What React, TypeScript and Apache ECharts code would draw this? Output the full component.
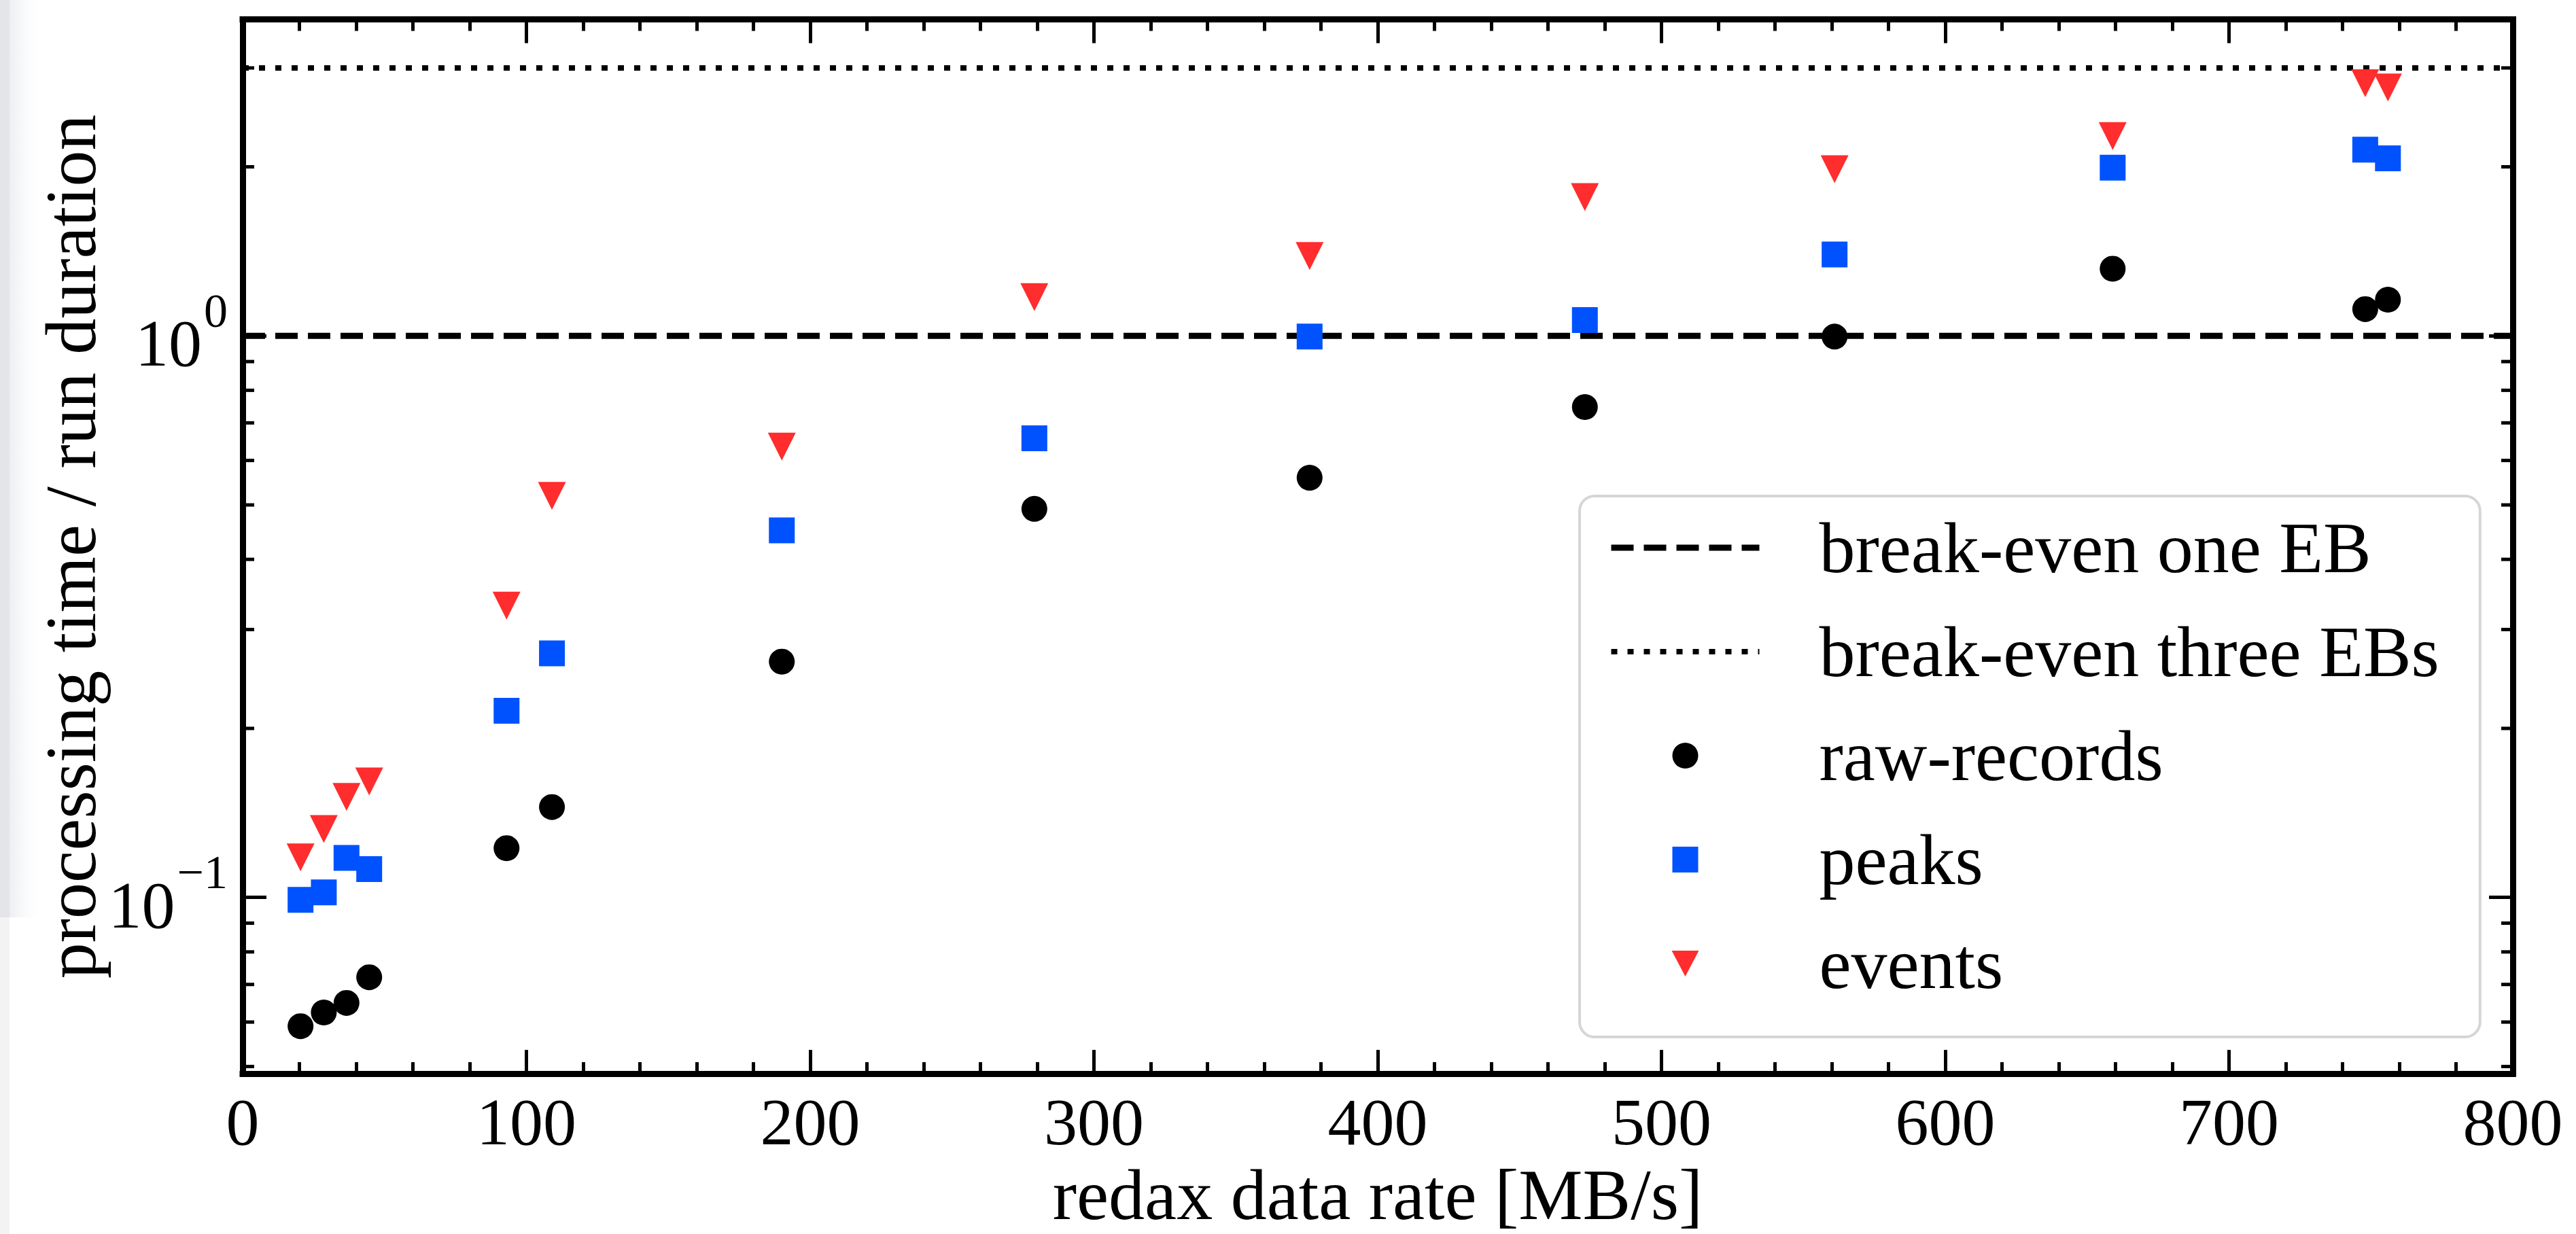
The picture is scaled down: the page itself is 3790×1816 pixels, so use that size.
import React, { useEffect, useRef } from "react";
import * as echarts from "echarts";

// ---- data ----
const rate = [20.4, 28.6, 36.6, 44.6, 93, 109, 190, 279, 376, 473, 561, 659, 748, 756];
const rawRecords = [0.059, 0.0624, 0.0649, 0.0721, 0.1224, 0.1449, 0.263, 0.492, 0.559, 0.747, 0.997, 1.317, 1.116, 1.16];
const peaks = [0.099, 0.1021, 0.1176, 0.1123, 0.215, 0.272, 0.4505, 0.657, 0.997, 1.067, 1.396, 1.993, 2.146, 2.071];
const events = [0.1179, 0.1324, 0.151, 0.1609, 0.331, 0.519, 0.635, 1.172, 1.387, 1.767, 1.981, 2.269, 2.818, 2.769];
const breakEvenOne = 1;
const breakEvenThree = 3;
const seriesNames = ["break-even one EB", "break-even three EBs", "raw-records", "peaks", "events"];
const xRange = [0, 800];
const yRange = [0.04855, 3.661];
const yMajorTicks = [0.1, 1];
const yMinorTicks = [0.05, 0.06, 0.07, 0.08, 0.09, 0.2, 0.3, 0.4, 0.5, 0.6, 0.7, 0.8, 0.9, 2, 3];

const FONT = "'Liberation Serif', 'DejaVu Serif', serif";
const SUP_SIZE = 70;
const BASE_SIZE = 98;

const supText = (v: number) => {
  const e = Math.round(Math.log10(v));
  return e < 0 ? "\u2212" + -e : String(e);
};
const supWidth = (s: string) => s.split("").reduce((a, c) => a + (c === "\u2212" ? 0.564 : 0.5), 0) * SUP_SIZE;

export default function App() {
  const ref = useRef<HTMLDivElement>(null);
  useEffect(() => {
    if (!ref.current) return;
    const chart = echarts.init(ref.current, null, { renderer: "svg" });
    const axisLine = { show: true, onZero: false, lineStyle: { color: "#000", width: 9, cap: "square" } };
    const majorTick = { show: true, inside: true, length: 35, lineStyle: { color: "#000", width: 5 } };
    const minorTick = { show: true, splitNumber: 5, length: 17, lineStyle: { color: "#000", width: 5 } };
    const option: any = {
      animation: false,
      backgroundColor: "#fff",
      grid: { left: 357, right: 93, top: 28.5, bottom: 235, containLabel: false },
      graphic: [
        { type: "rect", left: 0, top: 0, shape: { x: 0, y: 0, width: 14, height: 1350 }, style: { fill: "#e3e5e9" }, z: -10 },
        { type: "rect", left: 0, top: 1350, shape: { x: 0, y: 0, width: 14, height: 466 }, style: { fill: "#f3f3f3" }, z: -10 },
        {
          type: "rect", left: 14, top: 0, shape: { x: 0, y: 0, width: 50, height: 1350 },
          style: { fill: new echarts.graphic.LinearGradient(0, 0, 1, 0, [{ offset: 0, color: "#eceef1" }, { offset: 1, color: "rgba(255,255,255,0)" }]) },
          z: -10,
        },
      ],
      legend: {
        orient: "vertical",
        left: 2324,
        top: 730,
        symbolRotate: 0,
        data: [
          { name: seriesNames[0], itemStyle: { opacity: 0 }, lineStyle: { color: "#000", width: 9, type: [33, 15] } },
          { name: seriesNames[1], itemStyle: { opacity: 0 }, lineStyle: { color: "#000", width: 8, type: [9, 15] } },
          { name: seriesNames[2], icon: "circle" },
          { name: seriesNames[3], icon: "path://M0,0h0.01v0.01h-0.01z M218,37.99h0.01v0.01h-0.01z M90,0h38v38h-38z" },
          { name: seriesNames[4], icon: "path://M0,0h0.01v0.01h-0.01z M218,37.99h0.01v0.01h-0.01z M88.5,0h41l-20.5,39z" },
        ],
        itemWidth: 218,
        itemHeight: 38,
        itemGap: 47,
        padding: [23, 60, 55, 42],
        borderColor: "#d6d6d6",
        borderWidth: 4,
        borderRadius: 22,
        backgroundColor: "#fff",
        textStyle: { fontFamily: FONT, fontSize: 106, color: "#000", lineHeight: 106, padding: [0, 0, 0, 83] },
      },
      xAxis: [
        {
          type: "value", position: "bottom", min: xRange[0], max: xRange[1], interval: 100,
          axisLine, axisTick: majorTick, minorTick,
          splitLine: { show: false }, minorSplitLine: { show: false },
          axisLabel: { fontFamily: FONT, fontSize: BASE_SIZE, color: "#000", margin: 22 },
          name: "redax data rate [MB/s]", nameLocation: "middle", nameGap: 110,
          nameTextStyle: { fontFamily: FONT, fontSize: 106, color: "#000" },
        },
        {
          type: "value", position: "top", min: xRange[0], max: xRange[1], interval: 100,
          axisLine, axisTick: majorTick, minorTick,
          splitLine: { show: false }, minorSplitLine: { show: false },
          axisLabel: { show: false },
        },
      ],
      yAxis: [
        {
          type: "log", logBase: 10, position: "left", min: yRange[0], max: yRange[1],
          axisLine, axisTick: majorTick, minorTick: { show: false },
          splitLine: { show: false },
          axisLabel: { show: false },
          name: "processing time / run duration", nameLocation: "middle", nameGap: 200,
          nameTextStyle: { fontFamily: FONT, fontSize: 106, color: "#000" },
        },
        {
          type: "log", logBase: 10, position: "right", min: yRange[0], max: yRange[1],
          axisLine, axisTick: majorTick, minorTick: { show: false },
          splitLine: { show: false }, axisLabel: { show: false },
        },
      ],
      series: [
        {
          name: seriesNames[0], type: "line", symbol: "none", silent: true,
          data: [[xRange[0], breakEvenOne], [xRange[1], breakEvenOne]],
          lineStyle: { color: "#000", width: 9, type: [33, 15] }, itemStyle: { color: "#000" }, z: 2,
        },
        {
          name: seriesNames[1], type: "line", symbol: "none", silent: true,
          data: [[xRange[0], breakEvenThree], [xRange[1], breakEvenThree]],
          lineStyle: { color: "#000", width: 8, type: [9, 15] }, itemStyle: { color: "#000" }, z: 2,
        },
        {
          name: seriesNames[2], type: "scatter", symbol: "circle", symbolSize: 38,
          data: rate.map((x, i) => [x, rawRecords[i]]), itemStyle: { color: "#000", opacity: 1 }, z: 3,
        },
        {
          name: seriesNames[3], type: "scatter", symbol: "rect", symbolSize: 38,
          data: rate.map((x, i) => [x, peaks[i]]), itemStyle: { color: "#0052ff", opacity: 1 }, z: 4,
        },
        {
          name: seriesNames[4], type: "scatter", symbol: "triangle", symbolRotate: 180, symbolSize: 41,
          data: rate.map((x, i) => [x, events[i]]), itemStyle: { color: "#ff2d2d", opacity: 1 }, z: 5,
        },
        {
          // minor ticks of the log axis (left and right spines)
          type: "custom", silent: true, clip: false, z: 6,
          data: yMinorTicks.map((v) => [xRange[0], v]),
          renderItem: (params: any, api: any) => {
            const v = api.value(1);
            const l = api.coord([xRange[0], v]);
            const r = api.coord([xRange[1], v]);
            const st = { stroke: "#000", lineWidth: 5 };
            return {
              type: "group",
              children: [
                { type: "line", shape: { x1: l[0], y1: l[1], x2: l[0] + 17, y2: l[1] }, style: st },
                { type: "line", shape: { x1: r[0] - 17, y1: r[1], x2: r[0], y2: r[1] }, style: st },
              ],
            };
          },
        },
        {
          // 10^n tick labels of the log axis
          type: "custom", silent: true, clip: false, z: 6,
          data: yMajorTicks.map((v) => [xRange[0], v]),
          renderItem: (params: any, api: any) => {
            const v = api.value(1);
            const p = api.coord([xRange[0], v]);
            const s = supText(v);
            const right = p[0] - 22;
            const sw = supWidth(s);
            return {
              type: "group",
              children: [
                {
                  type: "text",
                  style: { text: "10", x: right - sw - 3, y: p[1] + 11, align: "right", verticalAlign: "middle", fontSize: BASE_SIZE, fontFamily: FONT, fill: "#000" },
                },
                {
                  type: "text",
                  style: { text: s, x: right, y: p[1] - 37, align: "right", verticalAlign: "middle", fontSize: SUP_SIZE, fontFamily: FONT, fill: "#000" },
                },
              ],
            };
          },
        },
      ],
    };
    chart.setOption(option);
    return () => chart.dispose();
  }, []);
  return (
    <div
      ref={ref}
      style={{ position: "fixed", left: 0, top: 0, width: "3790px", height: "1816px", background: "#fff" }}
    />
  );
}
